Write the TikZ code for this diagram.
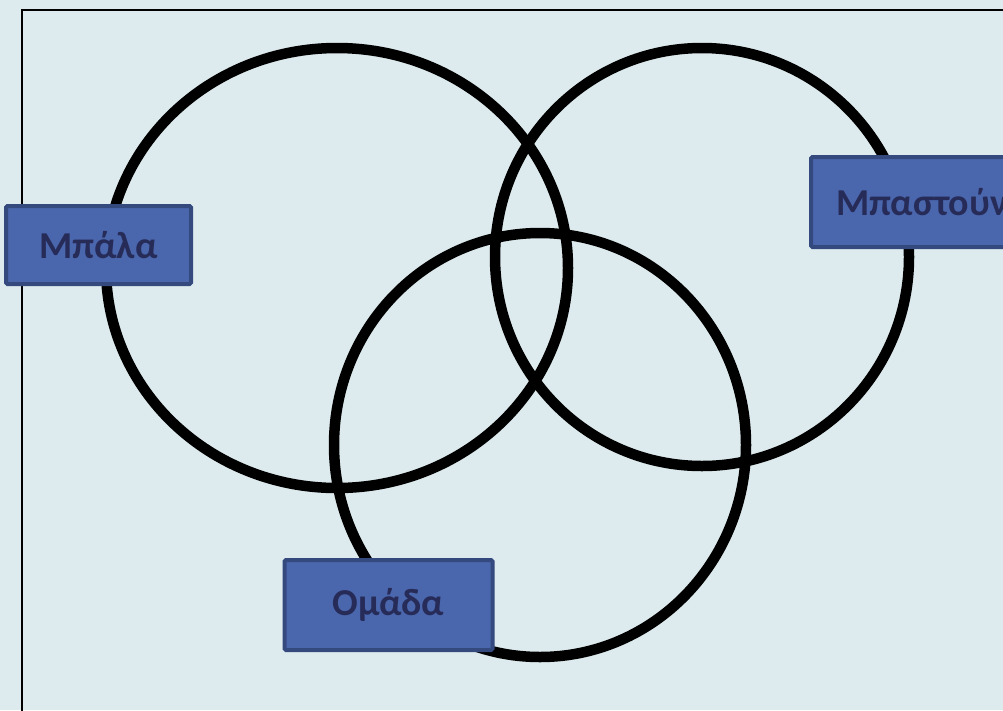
\documentclass[tikz,border=0pt]{standalone}
\usepackage{fontspec}
\setmainfont{Carlito}[BoldFont={Carlito Bold}]
\definecolor{bg}{HTML}{DDEBEE}
\definecolor{boxfill}{HTML}{4A66AC}
\definecolor{boxline}{HTML}{34497E}
\definecolor{boxtext}{HTML}{262B58}
\tikzset{
  ring/.style={draw=black, line width=10.5pt},
  label box/.style={draw=boxline, fill=boxfill, line width=4pt, rounded corners=1.5pt,
    text=boxtext, font=\bfseries\fontsize{38}{44}\selectfont, inner sep=0pt},
}
\begin{document}
\begin{tikzpicture}[x=1pt,y=-1pt]
\useasboundingbox (0,0) rectangle (1003,710);
\clip (0,0) rectangle (1003,710);
\fill[bg] (0,0) rectangle (1003,710);
\draw[line width=2pt] (22,720) -- (22,10) -- (1010,10);
\draw[ring] (337,268) ellipse [x radius=231, y radius=220];
\draw[ring] (702,257) ellipse [x radius=207, y radius=209];
\draw[ring] (540,445) ellipse [x radius=206, y radius=212];
\node[label box, minimum width=185pt, minimum height=78pt] (ball) at (98.5,245) {Μπάλα};
\node[label box, minimum width=260pt, minimum height=90pt, anchor=west, text width=250pt, align=left] (stick) at (809,202) {\hspace*{20pt}Μπαστούνι};
\node[label box, minimum width=208pt, minimum height=90pt] (team) at (388.5,605) {Ομάδα};
\end{tikzpicture}
\end{document}
